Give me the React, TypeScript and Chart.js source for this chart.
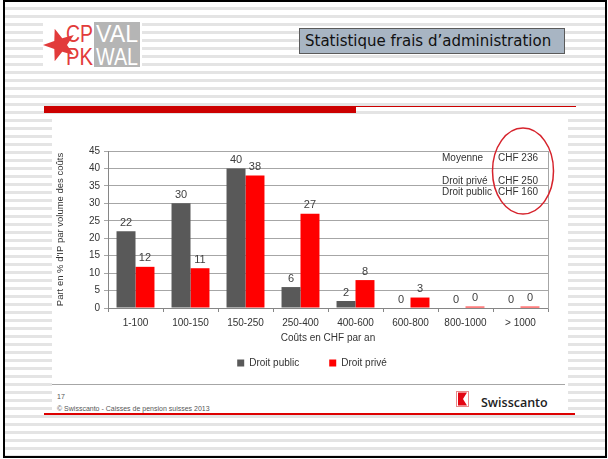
import React, { useEffect, useRef } from "react";
import { Chart, registerables } from "chart.js";

Chart.register(...registerables);

const categories = ["1-100", "100-150", "150-250", "250-400", "400-600", "600-800", "800-1000", "> 1000"];
const droitPublic = [22, 30, 40, 6, 2, 0, 0, 0];
const droitPrive = [11.8, 11.4, 38, 27, 8, 3, 0.4, 0.4];
const yMin = 0;
const yMax = 45;
const yStep = 5;
const summaryLabels = ["Moyenne", "Droit privé", "Droit public"];
const summaryValues = ["CHF 236", "CHF 250", "CHF 160"];

const FONT = "'Liberation Sans', Arial, sans-serif";
const TEXT = "#333333";

const valueLabels = {
  id: "valueLabels",
  afterDatasetsDraw(chart: any) {
    const ctx = chart.ctx;
    ctx.save();
    ctx.font = `11px ${FONT}`;
    ctx.fillStyle = "#404040";
    ctx.textAlign = "center";
    ctx.textBaseline = "bottom";
    chart.data.datasets.forEach((ds: any, i: number) => {
      const meta = chart.getDatasetMeta(i);
      meta.data.forEach((el: any, j: number) => {
        ctx.fillText(String(Math.round(ds.data[j])), el.x, el.y - 3);
      });
    });
    ctx.restore();
  },
};

const summaryBox = {
  id: "summaryBox",
  afterDraw(chart: any) {
    const ctx = chart.ctx;
    const rows = [40, 63, 74];
    ctx.save();
    ctx.font = `10px ${FONT}`;
    ctx.fillStyle = TEXT;
    ctx.textAlign = "left";
    ctx.textBaseline = "middle";
    summaryLabels.forEach((t, i) => ctx.fillText(t, 390, rows[i]));
    summaryValues.forEach((t, i) => ctx.fillText(t, 446, rows[i]));
    ctx.beginPath();
    ctx.ellipse(471, 53, 30.5, 43, 0, 0, Math.PI * 2);
    ctx.strokeStyle = "#d6232c";
    ctx.lineWidth = 1.5;
    ctx.stroke();
    ctx.restore();
  },
};

function ChartCanvas() {
  const ref = useRef<HTMLCanvasElement>(null);
  useEffect(() => {
    if (!ref.current) return;
    const chart = new Chart(ref.current, {
      type: "bar",
      data: {
        labels: categories,
        datasets: [
          {
            label: "Droit public",
            data: droitPublic,
            backgroundColor: "#595959",
            categoryPercentage: 0.69,
            barPercentage: 1,
          },
          {
            label: "Droit privé",
            data: droitPrive,
            backgroundColor: "#ff0000",
            categoryPercentage: 0.69,
            barPercentage: 1,
          },
        ],
      },
      options: {
        responsive: false,
        animation: false,
        layout: { padding: { top: 33, right: 0, bottom: 6, left: 0 } },
        plugins: {
          legend: {
            position: "bottom",
            labels: {
              boxWidth: 7,
              boxHeight: 7,
              padding: 30,
              color: TEXT,
              font: { size: 10, family: FONT },
            },
          },
          tooltip: { enabled: false },
        },
        scales: {
          x: {
            offset: true,
            grid: {
              display: true,
              drawOnChartArea: false,
              drawTicks: true,
              tickLength: 4,
              color: "#868686",
              offset: true,
            },
            border: { color: "#868686" },
            ticks: {
              color: TEXT,
              font: { size: 10, family: FONT },
              padding: 5,
              maxRotation: 0,
              autoSkip: false,
            },
            title: {
              display: true,
              text: "Coûts en CHF par an",
              color: TEXT,
              font: { size: 10, family: FONT },
              padding: { top: 0, bottom: -16 },
            },
            afterFit: (s: any) => {
              s.height = 20;
            },
          },
          y: {
            min: yMin,
            max: yMax,
            ticks: {
              stepSize: yStep,
              padding: 4,
              color: TEXT,
              font: { size: 10, family: FONT },
            },
            grid: { color: "#a6a6a6", tickLength: 4 },
            border: { color: "#868686" },
            title: {
              display: true,
              text: "Part en % d'IP par volume des coûts",
              color: TEXT,
              font: { size: 9.5, family: FONT },
              padding: { top: 3, bottom: 0 },
            },
            afterFit: (s: any) => {
              s.width = 56;
            },
          },
          yR: {
            position: "right",
            display: true,
            ticks: { display: false },
            grid: { display: false, drawTicks: false },
            border: { display: true, color: "#a6a6a6" },
            afterFit: (s: any) => {
              s.width = 24;
            },
          },
        },
      } as any,
      plugins: [valueLabels, summaryBox],
    });
    return () => chart.destroy();
  }, []);
  return (
    <canvas
      ref={ref}
      width={520}
      height={266}
      style={{ position: "absolute", left: 52, top: 118, width: 520, height: 266, display: "block" }}
    />
  );
}

function starPoints(cx: number, cy: number, ro: number, ri: number) {
  const pts: string[] = [];
  for (let k = 0; k < 10; k++) {
    const a = Math.PI + (k * Math.PI) / 5;
    const r = k % 2 === 0 ? ro : ri;
    pts.push(`${(cx + r * Math.cos(a)).toFixed(1)},${(cy + r * Math.sin(a)).toFixed(1)}`);
  }
  return pts.join(" ");
}

function Logo() {
  return (
    <svg width={99} height={48} style={{ position: "absolute", left: 43, top: 21 }}>
      <rect x={0} y={0} width={99} height={48} fill="#ffffff" />
      <rect x={51} y={1} width={46} height={45} fill="#b5b5b5" />
      <polygon points={starPoints(17, 24, 17, 7)} fill="#e23b3b" />
      <text x={23} y={21} fill="#e23b3b" fontFamily={FONT} fontSize={23} textLength={27} lengthAdjust="spacingAndGlyphs">CP</text>
      <text x={23} y={44} fill="#e23b3b" fontFamily={FONT} fontSize={23} textLength={27} lengthAdjust="spacingAndGlyphs">PK</text>
      <text x={53} y={21} fill="#ffffff" fontFamily={FONT} fontSize={23} textLength={42} lengthAdjust="spacingAndGlyphs">VAL</text>
      <text x={53} y={44} fill="#ffffff" fontFamily={FONT} fontSize={23} textLength={42} lengthAdjust="spacingAndGlyphs">WAL</text>
    </svg>
  );
}

function SwissIcon() {
  return (
    <svg width={13} height={16} style={{ position: "absolute", left: 456, top: 391 }}>
      <rect x={0.5} y={0.5} width={12} height={15} fill="#ffffff" stroke="#e88a8a" />
      <polygon points="2,1.5 11,1.5 7,8 11,14.5 2,14.5" fill="#e30613" />
    </svg>
  );
}

export default function App() {
  return (
    <div
      style={{
        position: "fixed",
        left: 0,
        top: 0,
        width: 608,
        height: 459,
        overflow: "hidden",
        background: "#ffffff",
      }}
    >
      <div
        style={{
          position: "absolute",
          left: 3,
          top: 0,
          width: 604,
          height: 458,
          boxSizing: "border-box",
          border: "2px solid #000",
          background: "repeating-linear-gradient(to bottom, #ffffff 0px, #ffffff 5px, #e4e4e4 5px, #e4e4e4 8px)",
        }}
      />
      <Logo />
      <div
        style={{
          position: "absolute",
          left: 299,
          top: 28,
          width: 266,
          height: 26,
          boxSizing: "border-box",
          background: "#a8b5c3",
          border: "1px solid #5a5a5a",
          fontFamily: "'DejaVu Sans', Verdana, sans-serif",
          fontSize: 15,
          lineHeight: "24px",
          color: "#111",
          paddingLeft: 5,
          whiteSpace: "nowrap",
        }}
      >
        Statistique frais d’administration
      </div>
      <div style={{ position: "absolute", left: 44, top: 106, width: 312, height: 7, background: "#cc0000" }} />
      <div style={{ position: "absolute", left: 356, top: 106, width: 220, height: 1, background: "#cc0000" }} />
      <div style={{ position: "absolute", left: 52, top: 116, width: 516, height: 298, background: "#ffffff" }} />
      <ChartCanvas />
      <div style={{ position: "absolute", left: 52, top: 384, width: 513, height: 1, background: "#a6a6a6" }} />
      <div
        style={{
          position: "absolute",
          left: 57,
          top: 393,
          fontFamily: FONT,
          fontSize: 7,
          color: "#555",
          whiteSpace: "nowrap",
        }}
      >
        17
      </div>
      <div
        style={{
          position: "absolute",
          left: 57,
          top: 405,
          fontFamily: FONT,
          fontSize: 7,
          color: "#555",
          whiteSpace: "nowrap",
        }}
      >
        © Swisscanto - Caisses de pension suisses 2013
      </div>
      <SwissIcon />
      <div
        style={{
          position: "absolute",
          left: 481,
          top: 394,
          fontFamily: "'Open Sans', sans-serif",
          fontWeight: 600,
          fontSize: 12.5,
          lineHeight: "18px",
          color: "#222",
          whiteSpace: "nowrap",
        }}
      >
        Swisscanto
      </div>
      <div style={{ position: "absolute", left: 44, top: 413, width: 531, height: 1.5, background: "#dd0000" }} />
    </div>
  );
}
